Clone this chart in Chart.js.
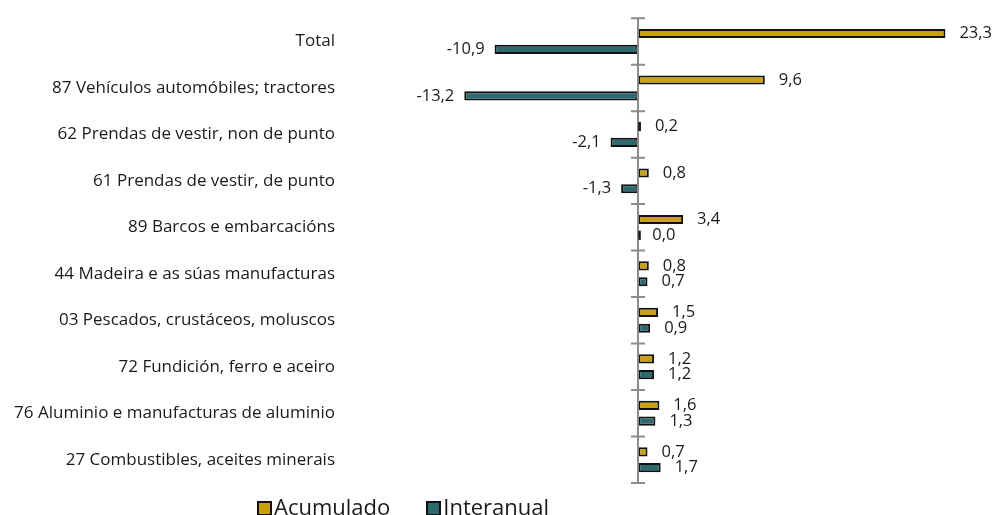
<!DOCTYPE html>
<html>
<head>
<meta charset="utf-8">
<script src="https://cdn.jsdelivr.net/npm/chart.js@4/dist/chart.umd.min.js"></script>
<style>
  html, body { margin: 0; padding: 0; background: #fff; overflow: hidden; }
  #wrap { position: relative; width: 997px; height: 515px; overflow: hidden; }
  #legend { position: absolute; left: 257px; top: 493px; font-family: 'Open Sans', sans-serif; font-size: 22px; line-height: 26px; color: #1a1a1a; display: flex; }
  #legend span.item { display: inline-flex; align-items: flex-end; margin-right: 36px; }
  #legend span.box { width: 11px; height: 11px; border: 2px solid #111; margin-right: 2px; margin-bottom: 3px; display: inline-block; }
</style>
</head>
<body>
<div id="wrap">
  <canvas id="chart" width="997" height="515"></canvas>
  <div id="legend"></div>
</div>
<script>
// Categories, top to bottom
const categories = [
  'Total',
  '87 Vehículos automóbiles; tractores',
  '62 Prendas de vestir, non de punto',
  '61 Prendas de vestir, de punto',
  '89 Barcos e embarcacións',
  '44 Madeira e as súas manufacturas',
  '03 Pescados, crustáceos, moluscos',
  '72 Fundición, ferro e aceiro',
  '76 Aluminio e manufacturas de aluminio',
  '27 Combustibles, aceites minerais'
];
const acumulado = [23.3, 9.6, 0.2, 0.8, 3.4, 0.8, 1.5, 1.2, 1.6, 0.7];
const interanual = [-10.9, -13.2, -2.1, -1.3, 0.0, 0.7, 0.9, 1.2, 1.3, 1.7];
const seriesNames = ['Acumulado', 'Interanual'];
const seriesColors = ['#C9A00F', '#2E6970'];

const FONT = "'Open Sans', sans-serif";

// zero axis with crossing ticks at category boundaries
const zeroAxis = {
  id: 'zeroAxis',
  afterDatasetsDraw(chart) {
    const { ctx, chartArea, scales } = chart;
    const x0 = Math.round(scales.x.getPixelForValue(0));
    ctx.save();
    ctx.strokeStyle = '#8c8c8c';
    ctx.lineWidth = 2;
    ctx.beginPath();
    ctx.moveTo(x0, chartArea.top);
    ctx.lineTo(x0, chartArea.bottom);
    const step = (chartArea.bottom - chartArea.top) / categories.length;
    for (let i = 0; i <= categories.length; i++) {
      const y = chartArea.top + i * step;
      ctx.moveTo(x0 - 7, y);
      ctx.lineTo(x0 + 7, y);
    }
    ctx.stroke();
    ctx.restore();
  }
};

// value labels at the bar ends (plus a stub mark for near-zero bars)
const valueLabels = {
  id: 'valueLabels',
  afterDatasetsDraw(chart) {
    const { ctx } = chart;
    ctx.save();
    ctx.font = '16.5px ' + FONT;
    ctx.fillStyle = '#1a1a1a';
    ctx.textBaseline = 'middle';
    chart.data.datasets.forEach((ds, di) => {
      chart.getDatasetMeta(di).data.forEach((bar, i) => {
        const v = ds.data[i];
        const txt = v.toFixed(1).replace('.', ',');
        if (Math.abs(bar.x - bar.base) < 3) {
          ctx.fillRect(bar.base, bar.y - bar.height / 2, 2.5, bar.height);
        }
        if (v < 0) {
          ctx.textAlign = 'right';
          ctx.fillText(txt, bar.x - 10, bar.y);
        } else {
          ctx.textAlign = 'left';
          ctx.fillText(txt, bar.x + 14, bar.y);
        }
      });
    });
    ctx.restore();
  }
};

new Chart(document.getElementById('chart').getContext('2d'), {
  type: 'bar',
  data: {
    labels: categories,
    datasets: [
      { label: seriesNames[0], data: acumulado, backgroundColor: seriesColors[0], borderColor: '#111', borderWidth: 2, borderSkipped: false },
      { label: seriesNames[1], data: interanual, backgroundColor: seriesColors[1], borderColor: '#111', borderWidth: 2, borderSkipped: false }
    ]
  },
  options: {
    indexAxis: 'y',
    responsive: false,
    animation: false,
    categoryPercentage: 0.68,
    barPercentage: 0.58,
    layout: { padding: { top: 13, bottom: 32, left: 0, right: 16 } },
    scales: {
      x: { display: false, min: -22.4, max: 26 },
      y: {
        grid: { display: false, drawTicks: false },
        border: { display: false },
        ticks: { color: '#1a1a1a', font: { family: FONT, size: 17 }, padding: 8, autoSkip: false },
        afterFit(scale) { scale.width = 343; }
      }
    },
    plugins: {
      legend: { display: false },
      tooltip: { enabled: false }
    }
  },
  plugins: [zeroAxis, valueLabels]
});

// legend
const legendEl = document.getElementById('legend');
legendEl.innerHTML = seriesNames.map((n, i) =>
  `<span class="item"><span class="box" style="background:${seriesColors[i]}"></span>${n}</span>`).join('');
</script>
</body>
</html>
